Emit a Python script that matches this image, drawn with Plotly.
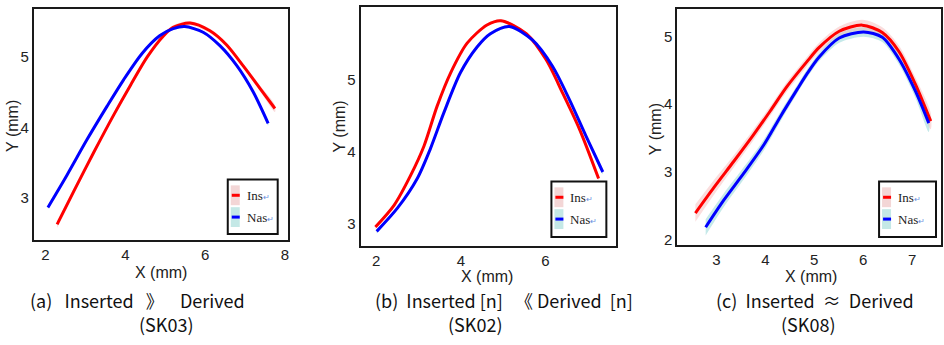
import numpy as np
import plotly.graph_objects as go

# ---------------- data ----------------
# Panel (a) SK03
a_ins_x = [2.29, 2.71, 3.21, 3.71, 4.13, 4.55, 4.96, 5.2, 5.62, 6.12, 6.54, 6.96, 7.37, 7.75]
a_ins_y = [2.63, 3.1, 3.65, 4.18, 4.6, 5.0, 5.3, 5.42, 5.48, 5.37, 5.17, 4.87, 4.56, 4.27]
a_nas_x = [2.06, 2.54, 3.04, 3.54, 3.96, 4.42, 4.86, 5.2, 5.49, 5.95, 6.37, 6.79, 7.2, 7.58]
a_nas_y = [2.87, 3.33, 3.83, 4.3, 4.68, 5.05, 5.3, 5.4, 5.43, 5.35, 5.16, 4.88, 4.51, 4.06]
a_ins_ci = [0.05, 0.04, 0.03, 0.03, 0.03, 0.03, 0.03, 0.03, 0.03, 0.03, 0.03, 0.03, 0.04, 0.05]
a_nas_ci = [0.03, 0.02, 0.02, 0.02, 0.02, 0.02, 0.02, 0.02, 0.02, 0.02, 0.02, 0.02, 0.02, 0.03]

# Panel (b) SK02
b_ins_x = [1.98, 2.42, 2.81, 3.13, 3.44, 3.76, 4.15, 4.62, 4.95, 5.55, 6.02, 6.41, 6.81, 7.26]
b_ins_y = [2.96, 3.26, 3.67, 4.08, 4.63, 5.09, 5.5, 5.75, 5.81, 5.63, 5.27, 4.81, 4.31, 3.63]
b_nas_x = [2.01, 2.5, 2.97, 3.28, 3.6, 3.99, 4.39, 4.7, 5.15, 5.7, 6.17, 6.57, 6.96, 7.36]
b_nas_y = [2.9, 3.22, 3.63, 4.04, 4.54, 5.09, 5.45, 5.63, 5.73, 5.54, 5.18, 4.72, 4.22, 3.72]
b_ins_ci = [0.03, 0.02, 0.02, 0.02, 0.02, 0.02, 0.02, 0.02, 0.02, 0.02, 0.02, 0.02, 0.02, 0.03]
b_nas_ci = [0.03, 0.02, 0.02, 0.02, 0.02, 0.02, 0.02, 0.02, 0.02, 0.02, 0.02, 0.02, 0.02, 0.03]

# Panel (c) SK08
c_ins_x = [2.57, 2.95, 3.36, 3.76, 4.1, 4.44, 4.85, 5.1, 5.51, 5.98, 6.39, 6.73, 7.07, 7.38]
c_ins_y = [2.39, 2.77, 3.16, 3.55, 3.9, 4.26, 4.63, 4.84, 5.08, 5.17, 5.06, 4.78, 4.29, 3.75]
c_nas_x = [2.78, 3.15, 3.56, 3.97, 4.31, 4.65, 4.85, 5.1, 5.51, 6.01, 6.39, 6.73, 7.07, 7.34]
c_nas_y = [2.18, 2.58, 2.98, 3.4, 3.82, 4.22, 4.45, 4.7, 4.98, 5.07, 4.99, 4.67, 4.19, 3.72]
c_ins_ci = [0.13, 0.11, 0.09, 0.08, 0.07, 0.07, 0.07, 0.07, 0.07, 0.08, 0.08, 0.09, 0.1, 0.12]
c_nas_ci = [0.12, 0.1, 0.09, 0.08, 0.07, 0.06, 0.06, 0.06, 0.07, 0.07, 0.07, 0.08, 0.1, 0.13]

x_ranges = [[1.71, 8.07], [1.63, 7.68], [2.2, 7.59]]
y_ranges = [[2.41, 5.68], [2.70, 6.0], [1.92, 5.41]]
x_ticks = [[2, 4, 6, 8], [2, 4, 6], [3, 4, 5, 6, 7]]
y_ticks = [[3, 4, 5], [3, 4, 5], [2, 3, 4, 5]]
captions = [
    ("(a)\u00a0\u00a0 Inserted\u00a0\u00a0 》\u00a0\u00a0\u00a0 Derived", "(SK03)"),
    ("(b)\u00a0 Inserted [n]\u00a0\u00a0 《 Derived\u00a0 [n]", "(SK02)"),
    ("(c)\u00a0 Inserted\u00a0 \u2248\u00a0 Derived", "(SK08)"),
]
legend_names = ["Ins", "Nas"]

# ---------------- layout geometry (pixels) ----------------
W, H = 944, 345
frames = [(34, 288, 9, 242), (361, 617, 7, 248), (678, 942, 9, 247)]
legend_boxes = [(228, 278, 181, 236), (552, 607, 183, 239), (880, 937, 183, 239)]
ytitle_pos = [(13, 127), (340, 128), (657, 130)]
xtitle_pos = [(161, 275), (488, 279), (812, 279)]
cap_pos = [((138, 303), (167, 327)), ((505, 303), (476, 327)), ((816, 303), (809, 327))]

RED = "#ff0000"
BLUE = "#0000ff"
PINK = "rgba(245,180,180,0.45)"
CYAN = "rgba(150,215,215,0.55)"
PINK_L = "#f3d6d6"
CYAN_L = "#c4e8e6"

panels = [
    (a_ins_x, a_ins_y, a_ins_ci, a_nas_x, a_nas_y, a_nas_ci),
    (b_ins_x, b_ins_y, b_ins_ci, b_nas_x, b_nas_y, b_nas_ci),
    (c_ins_x, c_ins_y, c_ins_ci, c_nas_x, c_nas_y, c_nas_ci),
]

fig = go.Figure()


def px2fx(px):
    return px / W


def py2fy(py):
    return 1 - py / H


SANS = "Liberation Sans Narrow, Liberation Sans, Arial"

for i, (ix, iy, ici, nx, ny, nci) in enumerate(panels):
    suf = "" if i == 0 else str(i + 1)
    xa, ya = "x" + suf, "y" + suf
    for xs, ys, ci, lc, bc in [(nx, ny, nci, BLUE, CYAN), (ix, iy, ici, RED, PINK)]:
        xs = np.array(xs)
        ys = np.array(ys)
        ci = np.array(ci)
        fig.add_trace(go.Scatter(
            x=np.concatenate([xs, xs[::-1]]),
            y=np.concatenate([ys + ci, (ys - ci)[::-1]]),
            fill="toself", fillcolor=bc, line=dict(width=0, shape="spline", smoothing=0.8),
            mode="lines", hoverinfo="skip", showlegend=False, xaxis=xa, yaxis=ya))
    for xs, ys, lc, name in [(ix, iy, RED, legend_names[0]), (nx, ny, BLUE, legend_names[1])]:
        fig.add_trace(go.Scatter(x=xs, y=ys, mode="lines", name=name,
                                 line=dict(color=lc, width=3, shape="spline", smoothing=0.8),
                                 showlegend=False, xaxis=xa, yaxis=ya))

    l, r, t, b = frames[i]
    axis_common = dict(showgrid=False, zeroline=False, showline=True, mirror=True,
                       linecolor="#1a1a1a", linewidth=2, ticks="",
                       tickfont=dict(family=SANS, size=15, color="#222"))
    fig.layout["xaxis" + suf] = dict(domain=[px2fx(l), px2fx(r)], range=x_ranges[i],
                                     tickvals=x_ticks[i], anchor=ya, **axis_common)
    fig.layout["yaxis" + suf] = dict(domain=[py2fy(b), py2fy(t)], range=y_ranges[i],
                                     tickvals=y_ticks[i], anchor=xa, **axis_common)

    # axis titles
    tfont = dict(family=SANS, size=16, color="#222")
    yx, yy = ytitle_pos[i]
    fig.add_annotation(text="Y (mm)", x=px2fx(yx), y=py2fy(yy), xref="paper", yref="paper",
                       showarrow=False, textangle=-90, font=tfont, xanchor="center", yanchor="middle")
    xx, xy = xtitle_pos[i]
    fig.add_annotation(text="X (mm)", x=px2fx(xx), y=py2fy(xy), xref="paper", yref="paper",
                       showarrow=False, font=tfont, xanchor="center", yanchor="middle")

    # captions
    cfont = dict(family="Noto Sans CJK SC, Noto Sans", size=18, color="#111")
    for (cx, cy), txt in zip(cap_pos[i], captions[i]):
        fig.add_annotation(text=txt, x=px2fx(cx), y=py2fy(cy), xref="paper", yref="paper",
                           showarrow=False, font=cfont, xanchor="center", yanchor="middle")

    # legend box (manual)
    bl, br, bt, bb = legend_boxes[i]
    fig.add_shape(type="rect", xref="paper", yref="paper", x0=px2fx(bl), x1=px2fx(br),
                  y0=py2fy(bb), y1=py2fy(bt), line=dict(color="#111", width=2), fillcolor="white")
    for k, (fc, lc, name) in enumerate([(PINK_L, RED, legend_names[0]), (CYAN_L, BLUE, legend_names[1])]):
        top = bt + 6 + k * 22
        fig.add_shape(type="rect", xref="paper", yref="paper", x0=px2fx(bl + 3), x1=px2fx(bl + 12),
                      y0=py2fy(top + 20), y1=py2fy(top), line=dict(width=0), fillcolor=fc)
        fig.add_shape(type="line", xref="paper", yref="paper", x0=px2fx(bl + 4), x1=px2fx(bl + 12),
                      y0=py2fy(top + 10), y1=py2fy(top + 10), line=dict(color=lc, width=3))
        fig.add_annotation(text=name + "<span style='color:#6b8fe0;font-size:8px'>\u21b5</span>",
                           x=px2fx(bl + 17), y=py2fy(top + 10), xref="paper", yref="paper",
                           showarrow=False, xanchor="left", yanchor="middle",
                           font=dict(family="Liberation Serif, Times New Roman", size=13, color="#222"))

fig.update_layout(width=W, height=H, margin=dict(l=0, r=0, t=0, b=0),
                  paper_bgcolor="white", plot_bgcolor="white", showlegend=False)
fig.write_html("out.html", config={"displayModeBar": False},
               post_script="document.body.style.margin='0px';document.body.style.overflow='hidden';")
